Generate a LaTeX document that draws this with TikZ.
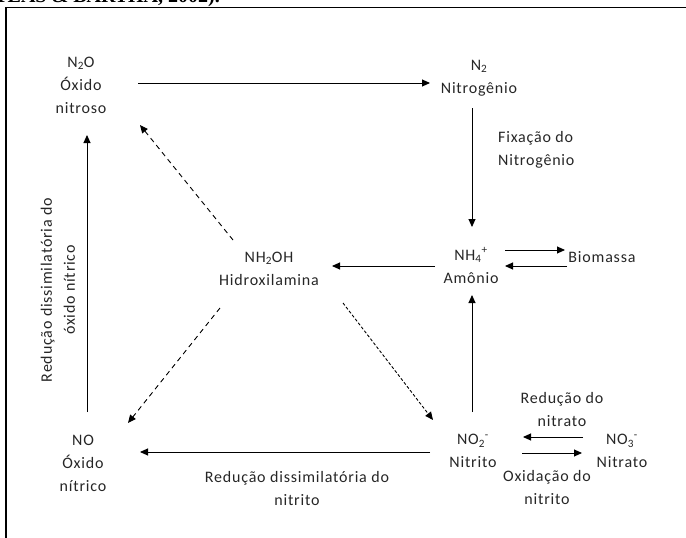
\documentclass[tikz,border=0pt]{standalone}
\usepackage{fontspec}
\setmainfont{Carlito}[LetterSpace=5]
\newfontfamily\capfont{Liberation Serif}
\usetikzlibrary{arrows.meta,calc}
\tikzset{
  lbl/.style={font=\fontsize{16}{23}\selectfont, align=center, inner sep=0pt, text=black!85},
  arr/.style={-{Triangle[length=8pt,width=7pt]}, line width=0.9pt},
  dsh/.style={arr, dash pattern=on 5pt off 4pt},
  fdsh/.style={arr, dash pattern=on 3pt off 2pt},
  frame/.style={line width=1.4pt}
}
\begin{document}
\begin{tikzpicture}[x=1pt,y=-1pt]
\useasboundingbox (0,0) rectangle (686,538);
% caption fragment (cut off at the top, as in the reference)
\node[anchor=base east, inner sep=0pt, font=\capfont\bfseries\fontsize{20}{24}\selectfont] (cap) at (220,2.5) {(ATLAS \& BARTHA, 2002).};
% frame
\draw[frame] (6,545) -- (6,7.5) -- (692,7.5);
% nodes
\node[lbl] (n2o) at (81,85) {N\textsubscript{2}O\\Óxido\\nitroso};
\node[lbl] (n2) at (479,78) {N\textsubscript{2}\\Nitrogênio};
\node[lbl] (nh4) at (471,265.5) {NH\textsubscript{4}\textsuperscript{+}\\Amônio};
\node[lbl] (bio) at (602,257) {Biomassa};
\node[lbl] (nh2oh) at (269,268.5) {NH\textsubscript{2}OH\\Hidroxilamina};
\node[lbl] (no2) at (473,451) {NO\textsubscript{2}\textsuperscript{-}\\Nitrito};
\node[lbl] (no3) at (622,451) {NO\textsubscript{3}\textsuperscript{-}\\Nitrato};
\node[lbl] (no) at (83,463) {NO\\Óxido\\nítrico};
% labels
\node[lbl, anchor=west, align=left] (fix) at (498,150) {Fixação do\\Nitrogênio};
\node[lbl] (rednit) at (562,410) {Redução do\\nitrato};
\node[lbl] (oxnit) at (547,487) {Oxidação do\\nitrito};
\node[lbl] (rdn) at (297,488) {Redução dissimilatória do\\nitrito};
\node[lbl, rotate=90] (rdo) at (58,290) {Redução dissimilatória do\\óxido nítrico};
% connectors
\draw[arr] ($(n2o)+(57,-2)$) -- ($(n2)+(-49,5)$);
\draw[arr] ($(n2)+(-7,30)$) -- ($(nh4)+(1,-38.5)$);
\draw[arr] ($(no2)+(-1,-39)$) -- ($(nh4)+(1,29.5)$);
\draw[arr] ($(nh4)+(-36,0.5)$) -- ($(nh2oh)+(63,-2.5)$);
\draw[arr] ($(nh4)+(34,-15.5)$) -- ($(bio)+(-37,-7)$);
\draw[arr] ($(bio)+(-35,9)$) -- ($(nh4)+(34,0.5)$);
\draw[dsh] ($(nh2oh)+(-36,-28.5)$) -- ($(n2o)+(59,40)$);
\draw[dsh] ($(nh2oh)+(-49,39.5)$) -- ($(no)+(45,-40)$);
\draw[fdsh] ($(nh2oh)+(74,34.5)$) -- ($(no2)+(-40,-31)$);
\draw[arr] ($(no3)+(-39,-14)$) -- ($(no2)+(50,-14)$);
\draw[arr] ($(no2)+(49,2)$) -- ($(no3)+(-40,2)$);
\draw[arr] ($(no2)+(-43,1)$) -- ($(no)+(57,-11)$);
\draw[arr] ($(no)+(4,-51)$) -- ($(n2o)+(6,50)$);
\end{tikzpicture}
\end{document}
